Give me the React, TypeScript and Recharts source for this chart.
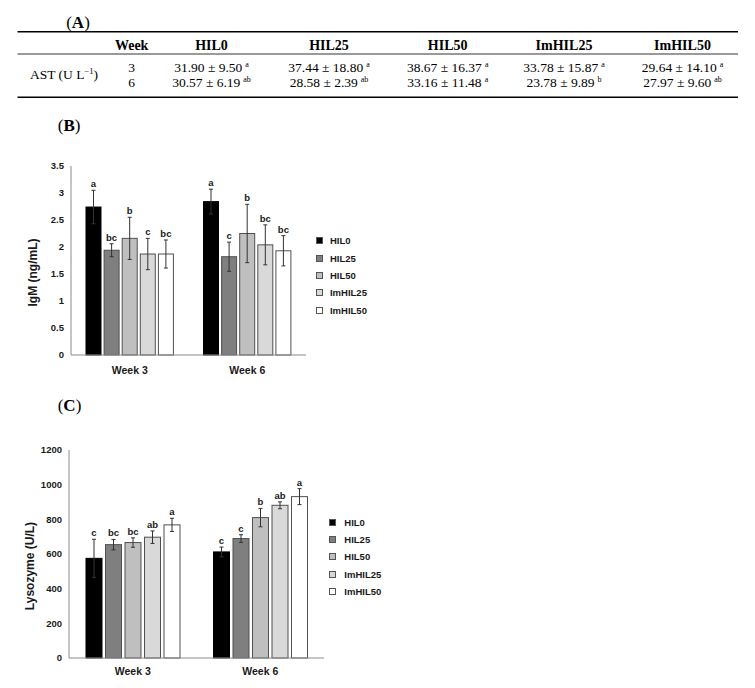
import React from 'react';
import { BarChart, Bar, XAxis, YAxis, ErrorBar, Legend, Label } from 'recharts';

// ---------- shared ----------
const categories = ['Week 3', 'Week 6'];
const groups = ['HIL0', 'HIL25', 'HIL50', 'ImHIL25', 'ImHIL50'];
const groupFills = ['#000000', '#7f7f7f', '#bfbfbf', '#d9d9d9', '#ffffff'];

// ---------- (A) table ----------
const tableWeeks = ['3', '6'];
const astWeek3 = ['31.90 ± 9.50', '37.44 ± 18.80', '38.67 ± 16.37', '33.78 ± 15.87', '29.64 ± 14.10'];
const astWeek3Sig = ['a', 'a', 'a', 'a', 'a'];
const astWeek6 = ['30.57 ± 6.19', '28.58 ± 2.39', '33.16 ± 11.48', '23.78 ± 9.89', '27.97 ± 9.60'];
const astWeek6Sig = ['ab', 'ab', 'a', 'b', 'ab'];

// ---------- (B) IgM ----------
const igmTicks = [0, 0.5, 1, 1.5, 2, 2.5, 3, 3.5];
const igmWeek3 = [2.74, 1.94, 2.16, 1.87, 1.87];
const igmWeek6 = [2.84, 1.82, 2.25, 2.04, 1.93];
const igmErrWeek3 = [0.31, 0.12, 0.39, 0.29, 0.26];
const igmErrWeek6 = [0.23, 0.27, 0.54, 0.37, 0.28];
const igmSigWeek3 = ['a', 'bc', 'b', 'c', 'bc'];
const igmSigWeek6 = ['a', 'c', 'b', 'bc', 'bc'];

// ---------- (C) Lysozyme ----------
const lysoTicks = [0, 200, 400, 600, 800, 1000, 1200];
const lysoWeek3 = [575, 654, 666, 697, 768];
const lysoWeek6 = [612, 689, 810, 881, 931];
const lysoErrWeek3 = [110, 30, 27, 36, 38];
const lysoErrWeek6 = [28, 22, 53, 20, 46];
const lysoSigWeek3 = ['c', 'bc', 'bc', 'ab', 'a'];
const lysoSigWeek6 = ['c', 'c', 'b', 'ab', 'a'];

function buildRows(means: number[][], errs: number[][], sigs: string[][]) {
  return categories.map((c, ci) => {
    const row: any = { week: c };
    groups.forEach((g, gi) => {
      row[g] = means[ci][gi];
      row[g + '_err'] = errs[ci][gi];
      row[g + '_lbl'] = sigs[ci][gi];
    });
    return row;
  });
}

const igmRows = buildRows([igmWeek3, igmWeek6], [igmErrWeek3, igmErrWeek6], [igmSigWeek3, igmSigWeek6]);
const lysoRows = buildRows([lysoWeek3, lysoWeek6], [lysoErrWeek3, lysoErrWeek6], [lysoSigWeek3, lysoSigWeek6]);

const SANS = '"Liberation Sans", Arial, sans-serif';
const SERIF = '"Liberation Serif", "Times New Roman", serif';
const AXIS_COLOR = '#8c8c8c';
const TEXT_COLOR = '#1a1a1a';

const makeShape = (name: string, fill: string) => (props: any) => {
  const { x, y, width, height, payload } = props;
  if (!payload || height == null) return null;
  const mean = payload[name];
  const err = payload[name + '_err'];
  const letter = payload[name + '_lbl'];
  const perUnit = mean ? height / mean : 0;
  const topY = y - err * perUnit;
  return (
    <g>
      <rect x={x} y={y} width={width} height={height} fill={fill} stroke={fill === '#000000' ? '#000' : '#505050'} strokeWidth={1} />
      <text x={x + width / 2} y={topY - 3} textAnchor="middle" fontFamily={SANS} fontWeight={700} fontSize={9.5} fill={TEXT_COLOR}>
        {letter}
      </text>
    </g>
  );
};

const makeLegend = (squareGap: number, spacing: number) => () => (
  <div style={{ fontFamily: SANS, fontWeight: 700, fontSize: 9.5, color: TEXT_COLOR }}>
    {groups.map((g, i) => (
      <div key={g} style={{ display: 'flex', alignItems: 'center', height: spacing }}>
        <span
          style={{
            display: 'inline-block',
            width: 5,
            height: 5,
            background: groupFills[i],
            border: '1px solid #555',
            marginRight: squareGap,
          }}
        />
        <span>{g}</span>
      </div>
    ))}
  </div>
);

const yTitle = (text: string, dx: number, dy: number) => (p: any) => {
  const vb = p.viewBox || {};
  const cx = vb.x + dx;
  const cy = vb.y + vb.height / 2 + dy;
  return (
    <text
      x={cx}
      y={cy}
      transform={`rotate(-90 ${cx} ${cy})`}
      textAnchor="middle"
      dominantBaseline="central"
      fontFamily={SANS}
      fontWeight={700}
      fontSize={12}
      fill={TEXT_COLOR}
    >
      {text}
    </text>
  );
};

function PanelChart(props: {
  rows: any[];
  ticks: number[];
  width: number;
  height: number;
  margin: any;
  barSize: number;
  barGap: number;
  title: string;
  titleDx: number;
  xTickSize: number;
  xTickMargin: number;
  legendLeft: number;
  legendTop: number;
  legendGap: number;
}) {
  const p = props;
  return (
    <BarChart width={p.width} height={p.height} data={p.rows} margin={p.margin} barSize={p.barSize} barGap={p.barGap}>
      <XAxis
        dataKey="week"
        height={26}
        tickLine={false}
        tickSize={p.xTickSize}
        tickMargin={p.xTickMargin}
        axisLine={{ stroke: AXIS_COLOR }}
        tick={{ fontFamily: SANS, fontWeight: 700, fontSize: 10.5, fill: TEXT_COLOR }}
      />
      <YAxis
        width={60}
        domain={[p.ticks[0], p.ticks[p.ticks.length - 1]]}
        ticks={p.ticks}
        interval={0}
        tickLine={false}
        tickSize={4}
        tickMargin={3}
        axisLine={{ stroke: AXIS_COLOR }}
        tick={{ fontFamily: SANS, fontWeight: 700, fontSize: 9.5, fill: TEXT_COLOR }}
      >
        <Label content={yTitle(p.title, p.titleDx, 12)} />
      </YAxis>
      <Legend
        layout="vertical"
        align="center"
        verticalAlign="middle"
        wrapperStyle={{ left: p.legendLeft, top: p.legendTop, width: 90 }}
        content={makeLegend(p.legendGap, 17.3)}
      />
      {groups.map((g, i) => (
        <Bar key={g} dataKey={g} fill={groupFills[i]} isAnimationActive={false} shape={makeShape(g, groupFills[i])}>
          <ErrorBar dataKey={g + '_err'} width={2} stroke="#333" strokeWidth={1} direction="y" />
        </Bar>
      ))}
    </BarChart>
  );
}

const tableCols = [131.7, 211.5, 329, 447.7, 564, 682.5];

function PanelLetter({ x, y, letter }: { x: number; y: number; letter: string }) {
  return (
    <text x={x} y={y} textAnchor="middle" fontFamily={SERIF} fontSize={17} fill="#000">
      (<tspan fontWeight={700}>{letter}</tspan>)
    </text>
  );
}

function TableA() {
  const rowsVals = [astWeek3, astWeek6];
  const rowsSig = [astWeek3Sig, astWeek6Sig];
  const rowBase = [71.5, 86.5];
  return (
    <g fontFamily={SERIF} fill="#000">
      <line x1={17.5} x2={738} y1={31.7} y2={31.7} stroke="#000" strokeWidth={1.6} />
      <line x1={17.5} x2={738} y1={54} y2={54} stroke="#000" strokeWidth={0.8} />
      <line x1={17.5} x2={738} y1={97.3} y2={97.3} stroke="#000" strokeWidth={1.6} />
      <text x={tableCols[0]} y={49.6} textAnchor="middle" fontWeight={700} fontSize={14}>Week</text>
      {groups.map((g, i) => (
        <text key={g} x={tableCols[i + 1]} y={49.6} textAnchor="middle" fontWeight={700} fontSize={14}>
          {g}
        </text>
      ))}
      <text x={64} y={79.3} textAnchor="middle" fontSize={13.5}>
        AST (U L<tspan fontSize={8.5} dy={-5}>−1</tspan>
        <tspan dy={5}>)</tspan>
      </text>
      {tableWeeks.map((w, r) => (
        <g key={w}>
          <text x={tableCols[0]} y={rowBase[r]} textAnchor="middle" fontSize={13.5}>{w}</text>
          {rowsVals[r].map((v, i) => (
            <text key={i} x={tableCols[i + 1]} y={rowBase[r]} textAnchor="middle" fontSize={13.5}>
              {v}
              <tspan fontSize={8} dx={3} dy={-4.5}>{rowsSig[r][i]}</tspan>
            </text>
          ))}
        </g>
      ))}
    </g>
  );
}

export default function App() {
  return (
    <div style={{ position: 'absolute', left: 0, top: 0, width: 755, height: 688, background: '#fff', overflow: 'hidden' }}>
      <svg width={755} height={688} style={{ position: 'absolute', left: 0, top: 0 }}>
        <PanelLetter x={78} y={27.5} letter="A" />
        <TableA />
        <PanelLetter x={69.2} y={130.6} letter="B" />
        <PanelLetter x={69.5} y={410.6} letter="C" />
      </svg>
      <div style={{ position: 'absolute', left: 0, top: 140 }}>
        <PanelChart
          rows={igmRows}
          ticks={igmTicks}
          width={420}
          height={250}
          margin={{ top: 26, right: 114, bottom: 9, left: 11 }}
          barSize={15}
          barGap={3.1}
          title="IgM (ng/mL)"
          titleDx={22.3}
          xTickSize={6}
          xTickMargin={6}
          legendLeft={315.7}
          legendTop={92.3}
          legendGap={7.3}
        />
      </div>
      <div style={{ position: 'absolute', left: 0, top: 420 }}>
        <PanelChart
          rows={lysoRows}
          ticks={lysoTicks}
          width={420}
          height={268}
          margin={{ top: 30, right: 96, bottom: 4, left: 9 }}
          barSize={16}
          barGap={3.5}
          title="Lysozyme (U/L)"
          titleDx={21}
          xTickSize={4}
          xTickMargin={5.5}
          legendLeft={329}
          legendTop={93.7}
          legendGap={8.3}
        />
      </div>
    </div>
  );
}
